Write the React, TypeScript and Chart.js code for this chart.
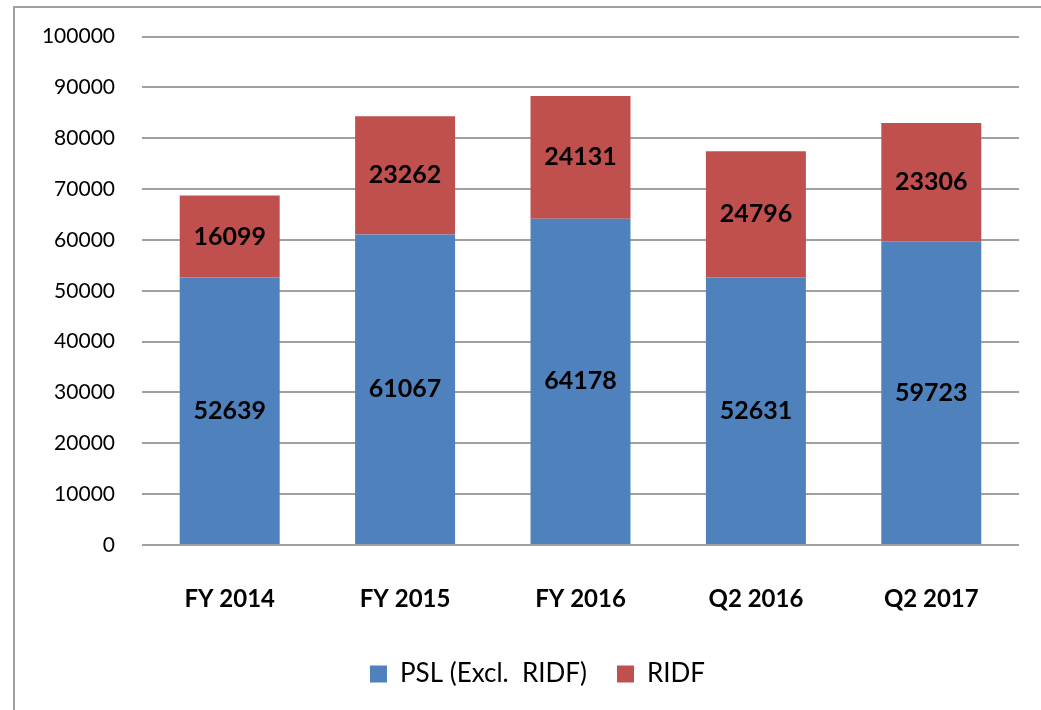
import React, { useEffect, useRef } from "react";
import { Chart, registerables } from "chart.js";

Chart.register(...registerables);

const categories = ["FY 2014", "FY 2015", "FY 2016", "Q2 2016", "Q2 2017"];
const pslValues = [52639, 61067, 64178, 52631, 59723];
const ridfValues = [16099, 23262, 24131, 24796, 23306];
const seriesNames = ["PSL (Excl.  RIDF)", "RIDF"];

const FONT = "Lato, 'Noto Sans', sans-serif";

const barLabels = {
  id: "barLabels",
  afterDatasetsDraw(chart: any) {
    const ctx = chart.ctx;
    ctx.save();
    ctx.font = `bold 25px ${FONT}`;
    ctx.fillStyle = "#000";
    ctx.textAlign = "center";
    ctx.textBaseline = "middle";
    chart.data.datasets.forEach((ds: any, di: number) => {
      const meta = chart.getDatasetMeta(di);
      meta.data.forEach((bar: any, i: number) => {
        const y = (bar.y + bar.base) / 2;
        ctx.fillText(String(ds.data[i]), bar.x, y);
      });
    });
    ctx.restore();
  },
};

const legendShift = {
  id: "legendShift",
  afterLayout(chart: any) {
    if (chart.legend) {
      chart.legend.left += 56;
    }
  },
};

export default function App() {
  const ref = useRef<HTMLCanvasElement>(null);
  useEffect(() => {
    const chart = new Chart(ref.current!, {
      type: "bar",
      data: {
        labels: categories,
        datasets: [
          { label: seriesNames[0], data: pslValues, backgroundColor: "#4F81BD", categoryPercentage: 0.57, barPercentage: 1 },
          { label: seriesNames[1], data: ridfValues, backgroundColor: "#C0504D", categoryPercentage: 0.57, barPercentage: 1 },
        ],
      },
      options: {
        animation: false,
        responsive: false,
        layout: { padding: { left: 0, right: 22, top: 30, bottom: 13 } },
        scales: {
          x: {
            stacked: true,
            grid: { display: false },
            border: { display: false },
            ticks: { color: "#000", font: { family: FONT, size: 24, weight: "bold" }, padding: 32 },
            afterFit: (s: any) => { s.height = 86; },
          },
          y: {
            stacked: true,
            min: 0,
            max: 100000,
            grid: { color: "#a0a0a0", lineWidth: 2, drawTicks: false },
            border: { display: false },
            ticks: {
              stepSize: 10000,
              color: "#000",
              font: { family: FONT, size: 21 },
              padding: 27,
              callback: (v: any) => String(v),
            },
            afterFit: (s: any) => { s.width = 142; },
          },
        },
        plugins: {
          legend: {
            position: "bottom",
            labels: { color: "#000", font: { family: FONT, size: 26 }, boxWidth: 17, boxHeight: 17, padding: 30 },
          },
          tooltip: { enabled: false },
        },
      },
      plugins: [barLabels, legendShift],
    } as any);
    return () => chart.destroy();
  }, []);
  return (
    <div style={{ position: "fixed", left: 0, top: 0, width: 1041, height: 710, overflow: "hidden", background: "#fff" }}>
      <div style={{ position: "absolute", left: 13, top: 6, width: 1200, height: 900, border: "2px solid #a0a0a0" }} />
      <canvas ref={ref} width={1041} height={713} style={{ position: "absolute", left: 0, top: -3 }} />
    </div>
  );
}
